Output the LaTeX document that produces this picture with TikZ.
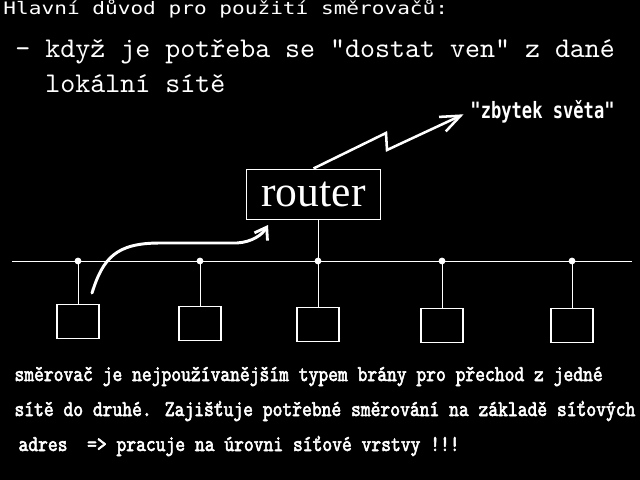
\documentclass[tikz,border=0pt]{standalone}
\usepackage{fontspec}
\newfontfamily\titlefont[FakeStretch=1.23]{DejaVu Sans Mono}
\newfontfamily\pointfont{lmmono10-regular.otf}
\newfontfamily\notefont[FakeStretch=0.76]{DejaVu Sans Mono}
\newfontfamily\bodyfont[FakeBold=2.5, FakeStretch=0.83]{lmmono10-regular.otf}
\newfontfamily\routerfont{Liberation Serif}
\usepackage{tikz}
\usetikzlibrary{arrows.meta, positioning, calc}

\tikzset{
  hostbox/.style={draw=white, line width=1pt, minimum width=1.05cm,
    minimum height=0.85cm, inner sep=0pt},
  tapdot/.style={circle, fill=white, inner sep=0pt, minimum size=0.17cm},
  textline/.style={anchor=base west, inner sep=0pt, text=white},
}

\begin{document}
\begin{tikzpicture}[x=0.025cm, y=-0.025cm, white, line width=0.7pt]

  \fill[black] (0,0) rectangle (640,480);
  \useasboundingbox (0,0) rectangle (640,480);

  \node[textline, font=\titlefont\fontsize{12.2}{14}\selectfont] (title)
    at (3,15) {Hlavní důvod pro použití směrovačů:};
  \node[textline, font=\pointfont\fontsize{20.3}{22}\selectfont] (point)
    at (15,57) {– když je potřeba se "dostat ven" z dané};
  \node[textline, font=\pointfont\fontsize{20.3}{22}\selectfont] (pointcont)
    at (45,93) {lokální sítě};

  \node[textline, font=\notefont\bfseries\fontsize{16}{18}\selectfont] (world)
    at (470,118) {"zbytek světa"};

  \node[draw=white, line width=0.7pt, minimum width=3.325cm, minimum height=1.25cm,
        font=\routerfont\fontsize{31}{34}\selectfont, text=white] (router)
        at (313.5,194) {router};

  \draw[line width=1.8pt, -{Straight Barb[length=0.5cm, width=0.4cm, line width=1.8pt]},
        shorten >=5pt]
    (router.north) -- (386,133) -- (387,150) -- (world.west);

  \coordinate (busL) at (12,261);
  \coordinate (busR) at (632,261);
  \draw (busL) -- (busR);

  \foreach \i/\x/\top in {1/78/304, 2/200/306, 3/318/307, 4/442/308, 5/572/308} {
    \node[tapdot] (tap\i) at (\x,261) {};
    \node[hostbox, anchor=north] (host\i) at (\x,\top) {};
    \draw (tap\i.center) -- (host\i.north);
  }

  \draw (router.south -| tap3) -- (tap3.center);

  \coordinate (nudge) at (92,293);
  \coordinate (aim) at (268,225);
  \draw[line width=2.1pt, line cap=round,
        -{Straight Barb[length=0.28cm, width=0.38cm, line width=2pt]}]
    (nudge) .. controls (103,258) and (116,243) .. (160,243)
    -- (237,243) .. controls (252,242) and (262,235) .. (aim);

  \node[textline, font=\bodyfont\fontsize{16}{18}\selectfont] (note1)
    at (14,381) {směrovač je nejpoužívanějším typem brány pro přechod z jedné};
  \node[textline, font=\bodyfont\fontsize{16}{18}\selectfont] (note2)
    at (14,416) {sítě do druhé. Zajišťuje potřebné směrování na základě síťových};
  \node[textline, font=\bodyfont\fontsize{16}{18}\selectfont] (note3)
    at (18,451) {adres~ => pracuje na úrovni síťové vrstvy !!!};

\end{tikzpicture}
\end{document}
